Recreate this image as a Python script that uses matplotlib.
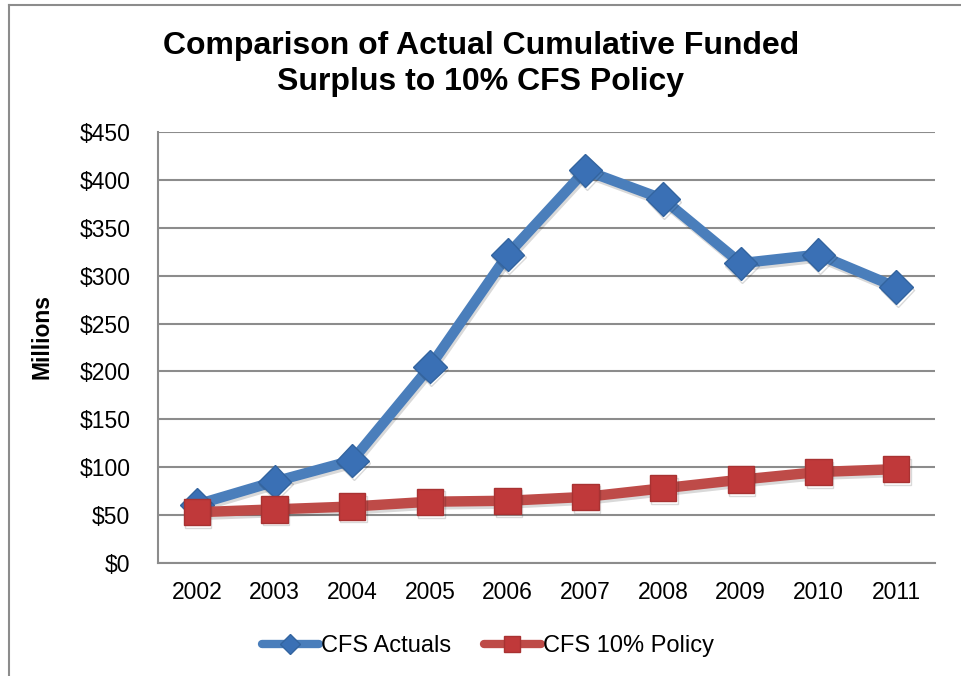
import matplotlib
matplotlib.use("Agg")
import matplotlib.pyplot as plt
import matplotlib.patheffects as pe
from matplotlib.lines import Line2D

plt.rcParams['font.family'] = ['Liberation Sans', 'DejaVu Sans']

years = ["2002", "2003", "2004", "2005", "2006", "2007", "2008", "2009", "2010", "2011"]
cfs_actuals = [61, 85, 107, 205, 322, 410, 380, 313, 322, 288]
cfs_policy = [53, 56, 59, 64, 65, 69, 78, 87, 95, 98]
y_ticks = [0, 50, 100, 150, 200, 250, 300, 350, 400, 450]
y_tick_labels = ["$0", "$50", "$100", "$150", "$200", "$250", "$300", "$350", "$400", "$450"]

W, H = 962, 676
fig = plt.figure(figsize=(W / 100, H / 100), dpi=100)
ax = fig.add_axes([158 / W, 1 - 563 / H, (935 - 158) / W, (563 - 132) / H])

x = list(range(len(years)))
shadow = [pe.SimpleLineShadow(offset=(1, -2), alpha=0.15, shadow_color='black'), pe.Normal()]

ax.plot(x, cfs_actuals, color='#4A7EBB', linewidth=7.5, marker='D', markersize=17,
        markerfacecolor='#3A70B5', markeredgecolor='#33649F', markeredgewidth=1,
        solid_capstyle='round', zorder=3, path_effects=shadow)
ax.plot(x, cfs_policy, color='#BE4B48', linewidth=7.5, marker='s', markersize=19,
        markerfacecolor='#C0393A', markeredgecolor='#A83232', markeredgewidth=1,
        solid_capstyle='round', zorder=4, path_effects=shadow)

ax.set_xlim(-0.5, len(years) - 0.5)
ax.set_ylim(0, 450)
ax.set_xticks(x)
ax.set_xticklabels(years, fontsize=16.5)
ax.set_yticks(y_ticks)
ax.set_yticklabels(y_tick_labels, fontsize=16.5)
ax.tick_params(axis='both', length=0)
ax.tick_params(axis='x', pad=13)
ax.tick_params(axis='y', pad=20)
ax.yaxis.grid(True, color='#8C8C8C', linewidth=1.5)
ax.set_axisbelow(True)
for s in ['top', 'right']:
    ax.spines[s].set_visible(False)
for s in ['left', 'bottom']:
    ax.spines[s].set_color('#8C8C8C')
    ax.spines[s].set_linewidth(1.5)

fig.text(42 / W, 1 - 337 / H, "Millions", rotation=90, ha='center', va='center',
         fontsize=16.5, fontweight='bold')

fig.text(0.5, 1 - 64 / H, "Comparison of Actual Cumulative Funded\nSurplus to 10% CFS Policy",
         ha='center', va='center', fontsize=23, fontweight='bold', linespacing=1.28)

handles = [
    Line2D([0], [0], color='#4A7EBB', linewidth=6, marker='D', markersize=10,
           markerfacecolor='#3A70B5', markeredgecolor='#33649F', solid_capstyle='round'),
    Line2D([0], [0], color='#BE4B48', linewidth=6, marker='s', markersize=11,
           markerfacecolor='#C0393A', markeredgecolor='#A83232', solid_capstyle='round'),
]
fig.legend(handles, ["CFS Actuals", "CFS 10% Policy"], loc='center',
           bbox_to_anchor=(488 / W, 1 - 646 / H), ncol=2, frameon=False, fontsize=17,
           handlelength=2.4, handletextpad=0.1, columnspacing=1.4)

# figure border (left and top)
fig.add_artist(Line2D([9 / W, 9 / W], [0, 1 - 5 / H], transform=fig.transFigure,
                      color='#8C8C8C', linewidth=1.5))
fig.add_artist(Line2D([9 / W, 1], [1 - 5 / H, 1 - 5 / H], transform=fig.transFigure,
                      color='#8C8C8C', linewidth=1.5))

fig.savefig("out.png", dpi=100)
